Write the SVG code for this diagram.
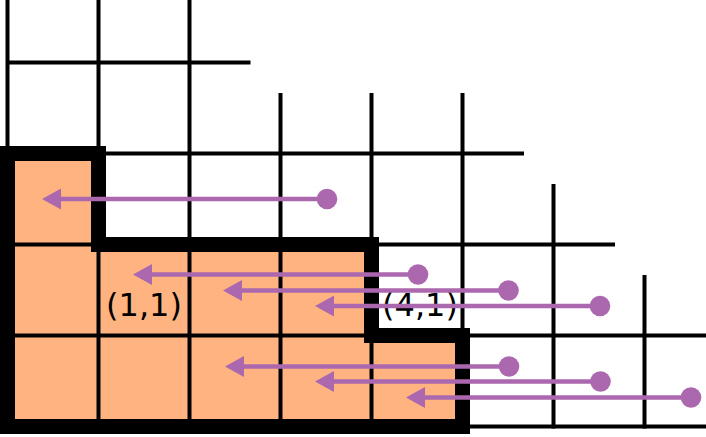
<svg xmlns="http://www.w3.org/2000/svg" width="706" height="437" viewBox="0 0 706 437">
  <style>
    .grid line { stroke: #000; stroke-width: 4; }
    .border { fill: none; stroke: #000; stroke-width: 15; stroke-linejoin: miter; stroke-miterlimit: 10; }
    .fill { fill: #ffb380; stroke: none; }
    .lbl { font-family: "DejaVu Sans", "Liberation Sans", sans-serif; font-size: 32px; fill: #000; text-anchor: middle; }
    .arr { stroke: #ab68ae; stroke-width: 4.5; fill: none; marker-start: url(#dot); marker-end: url(#head); }
  </style>
  <defs>
    <marker id="head" markerUnits="userSpaceOnUse" markerWidth="20" markerHeight="22" viewBox="0 -11 20 22" refX="2" refY="0" orient="auto">
      <path d="M0,-10.5 L19,0 L0,10.5 z" fill="#ab68ae"/>
    </marker>
    <marker id="dot" markerUnits="userSpaceOnUse" markerWidth="22" markerHeight="22" viewBox="-11 -11 22 22" refX="0" refY="0" orient="auto">
      <circle cx="0" cy="0" r="10.3" fill="#ab68ae"/>
    </marker>
  </defs>

  <g id="region-fill">
    <polygon class="fill" points="7.5,426.5 7.5,153.5 98.5,153.5 98.5,244.5 371.5,244.5 371.5,335.5 462.5,335.5 462.5,426.5"/>
  </g>

  <g id="grid" class="grid">
    <line x1="7.5" y1="0" x2="7.5" y2="428.5"/>
    <line x1="98.5" y1="0" x2="98.5" y2="428.5"/>
    <line x1="189.5" y1="0" x2="189.5" y2="428.5"/>
    <line x1="280.5" y1="93" x2="280.5" y2="428.5"/>
    <line x1="371.5" y1="93" x2="371.5" y2="428.5"/>
    <line x1="462.5" y1="93" x2="462.5" y2="428.5"/>
    <line x1="553.5" y1="184" x2="553.5" y2="428.5"/>
    <line x1="644.5" y1="275" x2="644.5" y2="428.5"/>
    <line x1="7.5" y1="62.5" x2="250.5" y2="62.5"/>
    <line x1="7.5" y1="153.5" x2="524" y2="153.5"/>
    <line x1="7.5" y1="244.5" x2="615" y2="244.5"/>
    <line x1="7.5" y1="335.5" x2="706" y2="335.5"/>
    <line x1="7.5" y1="426.5" x2="706" y2="426.5"/>
  </g>

  <g id="region-border">
    <polygon class="border" points="7.5,426.5 7.5,153.5 98.5,153.5 98.5,244.5 371.5,244.5 371.5,335.5 462.5,335.5 462.5,426.5"/>
  </g>

  <g id="label-1-1">
    <text class="lbl" x="144" y="316">(1,1)</text>
  </g>
  <g id="label-4-1">
    <text class="lbl" x="420" y="316">(4,1)</text>
  </g>

  <g id="connectors">
    <line class="arr" x1="327" y1="199" x2="59" y2="199"/>
    <line class="arr" x1="418" y1="274.5" x2="150" y2="274.5"/>
    <line class="arr" x1="508.5" y1="290.5" x2="240" y2="290.5"/>
    <line class="arr" x1="600" y1="306" x2="332" y2="306"/>
    <line class="arr" x1="509" y1="366.5" x2="242" y2="366.5"/>
    <line class="arr" x1="600.5" y1="381.5" x2="332" y2="381.5"/>
    <line class="arr" x1="691" y1="397.5" x2="423" y2="397.5"/>
  </g>
</svg>
